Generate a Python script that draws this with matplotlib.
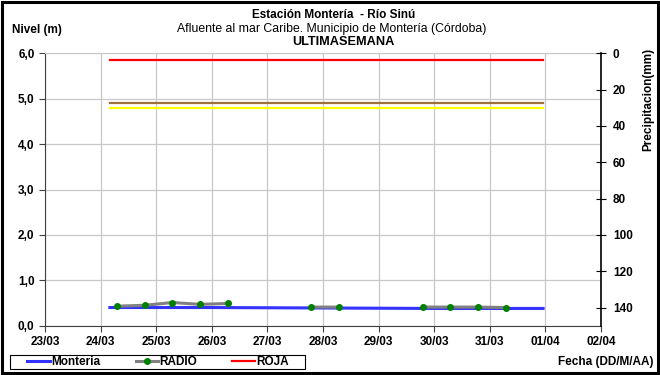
import datetime as dt
import matplotlib
matplotlib.use('Agg')
import matplotlib.pyplot as plt
import matplotlib.dates as mdates
from matplotlib.patches import Rectangle

plt.rcParams['font.family'] = ['Liberation Sans', 'DejaVu Sans']

# data
year = 2014
monteria_t = [dt.datetime(year, 3, 24, 4), dt.datetime(year, 3, 26, 0), dt.datetime(year, 3, 28, 0),
              dt.datetime(year, 3, 30, 0), dt.datetime(year, 3, 31, 23)]
monteria_v = [0.40, 0.40, 0.39, 0.38, 0.38]

radio_t = [dt.datetime(year, 3, 24, 7), dt.datetime(year, 3, 24, 19), dt.datetime(year, 3, 25, 7),
           dt.datetime(year, 3, 25, 19), dt.datetime(year, 3, 26, 7), dt.datetime(year, 3, 27, 0),
           dt.datetime(year, 3, 27, 19), dt.datetime(year, 3, 28, 7), dt.datetime(year, 3, 29, 0),
           dt.datetime(year, 3, 29, 19), dt.datetime(year, 3, 30, 7), dt.datetime(year, 3, 30, 19),
           dt.datetime(year, 3, 31, 7)]
radio_v = [0.43, 0.45, 0.51, 0.47, 0.49, float('nan'),
           0.41, 0.41, float('nan'),
           0.41, 0.41, 0.41, 0.40]

umbral_t = [dt.datetime(year, 3, 24, 4), dt.datetime(year, 3, 31, 23)]
roja = [5.85, 5.85]
naranja = [4.90, 4.90]
amarilla = [4.80, 4.80]

fig = plt.figure(figsize=(6.6, 3.75), dpi=100)
ax = fig.add_axes([45/660, 1 - 325.7/375, (601 - 45)/660, (325.7 - 53.3)/375])

ax.plot(umbral_t, roja, color='#ff0000', lw=1.6, label='ROJA', zorder=3)
ax.plot(umbral_t, naranja, color='#a0703c', lw=1.6, zorder=3)
ax.plot(umbral_t, amarilla, color='#ffff00', lw=1.6, zorder=3)
ax.plot(monteria_t, monteria_v, color='#3333ff', lw=2.2, label='Monteria', zorder=3)
ax.plot(radio_t, radio_v, color='#808080', lw=2.2, marker='o', ms=4,
        mfc='#008000', mec='#008000', label='RADIO', zorder=4)

ax.set_xlim(dt.datetime(year, 3, 23), dt.datetime(year, 4, 2))
ax.set_ylim(0, 6)
ax.xaxis.set_major_locator(mdates.DayLocator())
ax.xaxis.set_major_formatter(mdates.DateFormatter('%d/%m'))
ax.set_yticks([0, 1, 2, 3, 4, 5, 6])
ax.set_yticklabels(['0,0', '1,0', '2,0', '3,0', '4,0', '5,0', '6,0'])
ax.grid(True, color='#c8c8c8', lw=0.9)
ax.set_axisbelow(True)
ax.spines['top'].set_color('#c8c8c8')
ax.spines['right'].set_visible(False)
ax.spines['left'].set_color('#404040')
ax.spines['bottom'].set_color('#404040')
ax.tick_params(axis='both', labelsize=8.5, length=4, color='#404040')
for lab in ax.get_xticklabels() + ax.get_yticklabels():
    lab.set_fontweight('bold')

ax2 = ax.twinx()
ax2.set_ylim(150, 0)
ax2.set_yticks([0, 20, 40, 60, 80, 100, 120, 140])
ax2.spines['right'].set_color('black')
ax2.spines['right'].set_linewidth(1.2)
for s in ['top', 'left', 'bottom']:
    ax2.spines[s].set_visible(False)
ax2.tick_params(axis='y', labelsize=8.5, direction='inout', length=7, pad=5)
for lab in ax2.get_yticklabels():
    lab.set_fontweight('bold')
ax2.set_ylabel('Precipitacion(mm)', fontsize=8.5, fontweight='bold')
ax2.yaxis.set_label_coords(1.075, 0.83)

fig.text(0.505, 1 - 15/375, 'Estación Montería  - Río Sinú', ha='center', va='center',
         fontsize=8.5, fontweight='bold')
fig.text(0.503, 1 - 29/375, 'Afluente al mar Caribe. Municipio de Montería (Córdoba)', ha='center',
         va='center', fontsize=8.8)
fig.text(0.52, 1 - 42/375, 'ULTIMASEMANA', ha='center', va='center', fontsize=9.2,
         fontweight='bold')
fig.text(12/660, 1 - 30/375, 'Nivel (m)', ha='left', va='center', fontsize=8.5, fontweight='bold')
fig.text(653/660, 1 - 362/375, 'Fecha (DD/M/AA)', ha='right', va='center', fontsize=8.5,
         fontweight='bold')

h, l = ax.get_legend_handles_labels()
order = [l.index('Monteria'), l.index('RADIO'), l.index('ROJA')]
leg = fig.legend([h[i] for i in order], [l[i] for i in order], loc='center',
                 bbox_to_anchor=(158/660, 1 - 362/375), ncol=3, frameon=False,
                 handlelength=1.9, handletextpad=0.1, columnspacing=3.0,
                 prop={'size': 8.5, 'weight': 'bold'}, borderpad=0, borderaxespad=0)

fig.patches.append(Rectangle((10/660, 1 - 369/375), 295/660, 14/375, transform=fig.transFigure,
                             fill=False, edgecolor='black', lw=0.8))
fig.patches.append(Rectangle((2/660, 2/375), 656/660, 371/375, transform=fig.transFigure,
                             fill=False, edgecolor='black', lw=2.2))

fig.savefig('out.png', dpi=100)
